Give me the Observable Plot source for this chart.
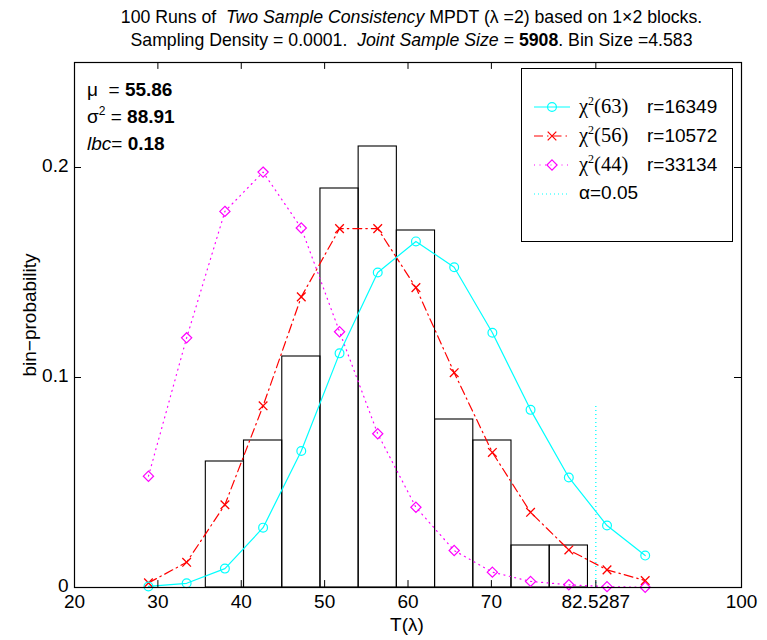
<!DOCTYPE html>
<html>
<head>
<meta charset="utf-8">
<script src="https://cdn.jsdelivr.net/npm/d3@7"></script>
<script src="https://cdn.jsdelivr.net/npm/@observablehq/plot@0.6"></script>
<style>
  html, body { margin: 0; padding: 0; background: #fff; overflow: hidden; }
  #wrap { position: relative; width: 767px; height: 640px; font-family: "Liberation Sans", Arial, sans-serif; color: #000; }
  #title { position: absolute; left: 0; top: 6px; width: 767px; box-sizing: border-box; padding-left: 56px; text-align: center; font-size: 17.7px; line-height: 23px; }
  #chart { position: absolute; left: 0; top: 50px; }
  .abs { position: absolute; white-space: nowrap; }
  #legend { position: absolute; left: 521px; top: 68px; width: 212px; height: 174px; border: 1px solid #000; background: #fff; box-sizing: border-box; }
  .row { position: absolute; left: 0; height: 28px; width: 212px; }
  .row svg { position: absolute; left: 10px; top: 0; }
  .row .lab { position: absolute; left: 57px; top: 2px; font-size: 19px; }
  .row .r { position: absolute; left: 125px; top: 3px; font-size: 19px; }
  .serif { font-family: "Liberation Serif", "Times New Roman", serif; font-size: 20.5px; }
  sup { font-size: 12px; vertical-align: 8px; line-height: 0; }
  #stats { position: absolute; left: 87px; top: 76px; font-size: 19px; line-height: 27px; }
</style>
</head>
<body>
<div id="wrap">
  <div id="title"></div>
  <div id="chart"></div>
  <div id="stats"></div>
  <div id="legend"></div>
  <div class="abs" id="xlabel" style="left:0;width:814px;text-align:center;top:614px;font-size:19px;"></div>
  <div class="abs" id="ylabel" style="left:30px;top:315px;font-size:19px;transform:translate(-50%,-50%) rotate(-90deg);"></div>
</div>
<script>
// ---- data ----
const titleLine1 = "100 Runs of&nbsp; <i>Two Sample Consistency</i> MPDT (λ =2) based on 1×2 blocks.";
const titleLine2 = "Sampling Density = 0.0001.&nbsp; <i>Joint Sample Size</i> = <b>5908</b>. Bin Size =4.583";
const xLabel = "T(λ)";
const yLabel = "bin−probability";

const xTicks = [20, 30, 40, 50, 60, 70, 82.5287, 100];
const yTicks = [0, 0.1, 0.2];

const binSize = 4.583;
const binLeft = [35.75, 40.33, 44.92, 49.50, 54.08, 58.66, 63.25, 67.83, 72.41, 77.00];
const binProb = [0.06, 0.07, 0.11, 0.19, 0.21, 0.17, 0.08, 0.07, 0.02, 0.02];

const curveX = [28.87, 33.45, 38.04, 42.62, 47.20, 51.79, 56.37, 60.95, 65.54, 70.12, 74.70, 79.29, 83.87, 88.45];
const chi63 = [0.0005, 0.002, 0.009, 0.0285, 0.065, 0.1115, 0.150, 0.1648, 0.1525, 0.1213, 0.0846, 0.0524, 0.0295, 0.0152];
const chi56 = [0.0022, 0.012, 0.0394, 0.0865, 0.1384, 0.1709, 0.1709, 0.1428, 0.1023, 0.0643, 0.0358, 0.0179, 0.0084, 0.0033];
const chi44 = [0.053, 0.1189, 0.1791, 0.1978, 0.1712, 0.1218, 0.0732, 0.0382, 0.0176, 0.0073, 0.0029, 0.0013, 0.0004, 0.0001];

const alphaX = 82.5287;
const alphaTop = 0.087;

const seriesNames = ["63", "56", "44"];
const seriesR = ["r=16349", "r=10572", "r=33134"];
const alphaLabel = "α=0.05";

const statMu = "55.86", statVar = "88.91", statLbc = "0.18";

// ---- build ----
const bins = binLeft.map((x, i) => ({x1: x, x2: x + binSize, y1: 0, y2: binProb[i]}));
const pts = (ys) => curveX.map((x, i) => ({x, y: ys[i]}));
const d63 = pts(chi63), d56 = pts(chi56), d44 = pts(chi44);

const cyan = "#00ffff", red = "#ff0000", magenta = "#ff00ff";
const yMax = 0.25, xMin = 20, xMax = 100;
const tickLenY = 0.0033, tickLenX = 0.84;

const chart = Plot.plot({
  width: 767,
  height: 590,
  marginTop: 12,
  marginBottom: 53,
  marginLeft: 74,
  marginRight: 26,
  style: {fontFamily: "'Liberation Sans', Arial, sans-serif", fontSize: "19px", color: "#000", background: "#fff", overflow: "visible"},
  x: {domain: [xMin, xMax], label: null},
  y: {domain: [0, yMax], label: null},
  marks: [
    Plot.axisX({ticks: xTicks, tickFormat: d => String(d), tickSize: 0, tickPadding: 7, label: null}),
    Plot.axisY({ticks: yTicks, tickFormat: d => String(d), tickSize: 0, tickPadding: 6, dy: -2, label: null}),
    Plot.rect(bins, {x1: "x1", x2: "x2", y1: "y1", y2: "y2", fill: "none", stroke: "#000", strokeWidth: 1.1}),
    Plot.ruleX([alphaX], {y1: 0, y2: alphaTop, stroke: cyan, strokeWidth: 1.3, strokeDasharray: "1,3"}),
    Plot.line(d44, {x: "x", y: "y", stroke: magenta, strokeWidth: 1.2, strokeDasharray: "1,4.5"}),
    Plot.line(d56, {x: "x", y: "y", stroke: red, strokeWidth: 1.2, strokeDasharray: "9,4,1.5,4"}),
    Plot.line(d63, {x: "x", y: "y", stroke: cyan, strokeWidth: 1.2}),
    Plot.dot(d44, {x: "x", y: "y", symbol: "diamond2", r: 4.6, stroke: magenta, fill: "none", strokeWidth: 1.2}),
    Plot.dot(d56, {x: "x", y: "y", symbol: "times", r: 4, stroke: red, fill: "none", strokeWidth: 1.3}),
    Plot.dot(d63, {x: "x", y: "y", symbol: "circle", r: 4.4, stroke: cyan, fill: "none", strokeWidth: 1.2}),
    // inward ticks (MATLAB style)
    Plot.ruleX(xTicks, {y1: 0, y2: tickLenY, stroke: "#000"}),
    Plot.ruleX(xTicks, {y1: yMax - tickLenY, y2: yMax, stroke: "#000"}),
    Plot.ruleY(yTicks, {x1: xMin, x2: xMin + tickLenX, stroke: "#000"}),
    Plot.ruleY(yTicks, {x1: xMax - tickLenX, x2: xMax, stroke: "#000"}),
    Plot.frame({stroke: "#000", strokeWidth: 1.2})
  ]
});
document.getElementById("chart").appendChild(chart);

document.getElementById("title").innerHTML = titleLine1 + "<br>" + titleLine2;
document.getElementById("xlabel").textContent = xLabel;
document.getElementById("ylabel").textContent = yLabel;
document.getElementById("stats").innerHTML =
  `<div>μ&nbsp; = <b>${statMu}</b></div>` +
  `<div>σ<sup>2</sup> = <b>${statVar}</b></div>` +
  `<div><i>lbc</i>= <b>${statLbc}</b></div>`;

// legend
const legend = document.getElementById("legend");
const sym = (type, size) => d3.symbol().type(type).size(size)();
const rows = [
  {stroke: cyan, dash: null, path: sym(d3.symbolCircle, Math.PI * 4.4 * 4.4), label: `<span class="serif">χ<sup>2</sup>(${seriesNames[0]})</span>`, r: seriesR[0]},
  {stroke: red, dash: "9,4,1.5,4", path: sym(d3.symbolTimes, Math.PI * 16), label: `<span class="serif">χ<sup>2</sup>(${seriesNames[1]})</span>`, r: seriesR[1]},
  {stroke: magenta, dash: "1,4.5", path: sym(d3.symbolDiamond2, Math.PI * 4.6 * 4.6), label: `<span class="serif">χ<sup>2</sup>(${seriesNames[2]})</span>`, r: seriesR[2]},
  {stroke: cyan, dash: "1,3", path: null, label: alphaLabel, r: ""}
];
const rowTops = [24, 53, 82, 111];
rows.forEach((d, i) => {
  const div = document.createElement("div");
  div.className = "row";
  div.style.top = rowTops[i] + "px";
  div.innerHTML =
    `<svg width="40" height="28"><line x1="2" x2="38" y1="14" y2="14" stroke="${d.stroke}" stroke-width="1.2" ${d.dash ? `stroke-dasharray="${d.dash}"` : ""}/>` +
    (d.path ? `<path d="${d.path}" transform="translate(20,14)" fill="none" stroke="${d.stroke}" stroke-width="1.2"/>` : "") +
    `</svg><span class="lab">${d.label}</span><span class="r">${d.r}</span>`;
  legend.appendChild(div);
});
</script>
</body>
</html>
